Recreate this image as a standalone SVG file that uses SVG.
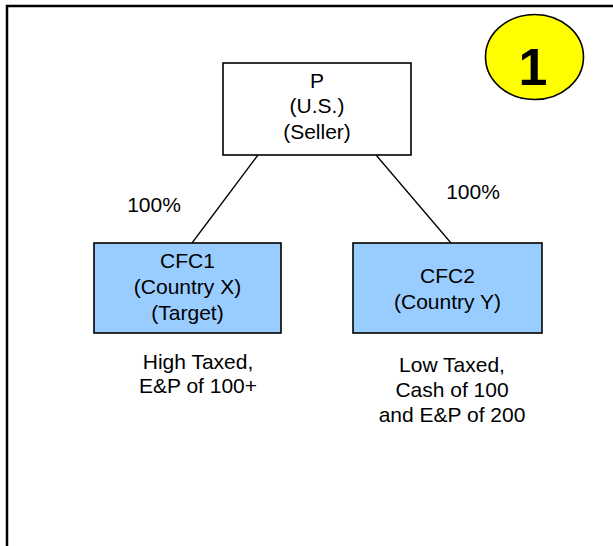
<svg xmlns="http://www.w3.org/2000/svg" width="613" height="546" viewBox="0 0 613 546">
<style>
text{font-family:"Liberation Sans",Arial,sans-serif;font-size:21px;fill:#000;text-anchor:middle}
.box{stroke:#000;stroke-width:1.6}
.conn{stroke:#000;stroke-width:1.3;fill:none}
</style>
<rect width="613" height="546" fill="#fff"/>
<path d="M7,546 V6 H613" fill="none" stroke="#000" stroke-width="2.5"/>
<g id="badge">
<ellipse cx="534.5" cy="57" rx="49" ry="42.5" fill="#ffff00" stroke="#000" stroke-width="1.6"/>
<text x="533" y="85" style="font-size:52px;font-weight:bold">1</text>
</g>
<g id="connectors">
<line class="conn" x1="258" y1="155" x2="192" y2="243"/>
<line class="conn" x1="376" y1="155" x2="451" y2="243"/>
</g>
<g id="P">
<rect class="box" x="223" y="63" width="188" height="92" fill="#fff"/>
<text x="317" y="88">P</text>
<text x="317" y="113">(U.S.)</text>
<text x="317" y="139">(Seller)</text>
</g>
<g id="CFC1">
<rect class="box" x="94" y="243" width="187" height="90" fill="#99ccff"/>
<text x="187.5" y="268">CFC1</text>
<text x="187.5" y="294">(Country X)</text>
<text x="187.5" y="320">(Target)</text>
</g>
<g id="CFC2">
<rect class="box" x="353" y="243" width="189" height="90" fill="#99ccff"/>
<text x="447.5" y="283">CFC2</text>
<text x="447.5" y="309">(Country Y)</text>
</g>
<g id="labels">
<text x="154" y="212">100%</text>
<text x="473" y="199">100%</text>
<text x="198" y="369">High Taxed,</text>
<text x="198" y="393">E&amp;P of 100+</text>
<text x="452" y="372">Low Taxed,</text>
<text x="452" y="397">Cash of 100</text>
<text x="452" y="422">and E&amp;P of 200</text>
</g>
</svg>
